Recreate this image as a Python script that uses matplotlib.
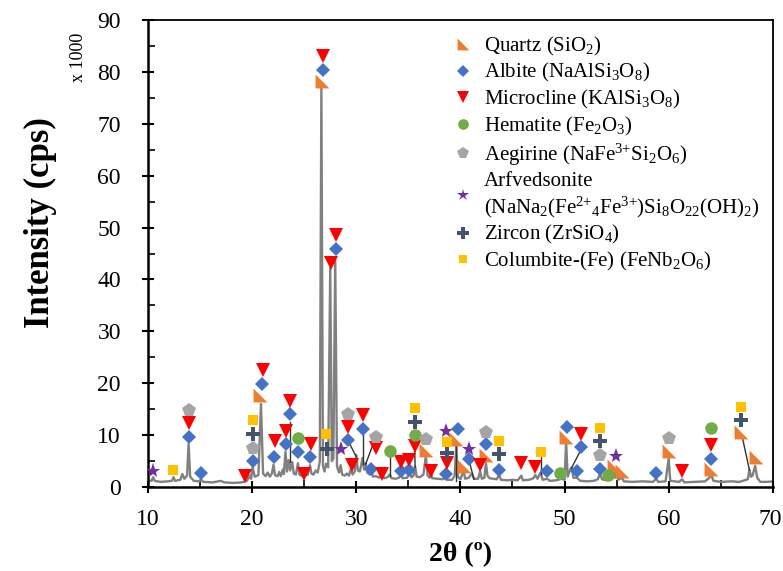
import matplotlib
matplotlib.use("Agg")
import matplotlib.pyplot as plt
import matplotlib.transforms as mtransforms
from matplotlib.lines import Line2D

plt.rcParams["font.family"] = ["Liberation Serif", "DejaVu Serif"]
plt.rcParams["mathtext.fontset"] = "custom"
plt.rcParams["mathtext.rm"] = "Liberation Serif"
plt.rcParams["mathtext.it"] = "Liberation Serif:italic"
plt.rcParams["mathtext.bf"] = "Liberation Serif:bold"

# XRD trace (2theta, intensity x1000)
trace_x = [
    10.0, 10.35, 10.5, 10.65, 11.2, 11.9, 12.3, 12.45, 12.6, 13.1, 13.3, 13.5, 13.75, 13.9, 14.05,
    14.4, 14.9, 15.1, 15.3, 16.2, 17.0, 17.3, 18.2, 19.0, 19.5, 19.8, 19.9, 20.05, 20.25, 20.6,
    20.85, 21.05, 21.3, 21.5, 21.7, 21.9, 22.05, 22.2, 22.45, 22.6, 22.75, 22.95, 23.05, 23.2, 23.35,
    23.5, 23.65, 23.85, 24.0, 24.2, 24.4, 24.55, 24.8, 24.95, 25.1, 25.35, 25.55, 25.7, 25.9, 26.1,
    26.3, 26.5, 26.65, 26.8, 26.95, 27.1, 27.3, 27.5, 27.65, 27.8, 27.98, 28.15, 28.35, 28.5, 28.65,
    28.9, 29.1, 29.3, 29.5, 29.65, 29.85, 30.0, 30.15, 30.35, 30.6, 30.75, 30.9, 31.05, 31.3, 31.45,
    31.6, 31.9, 32.2, 32.5, 32.7, 33.0, 33.2, 33.4, 33.8, 34.1, 34.3, 34.45, 34.9, 35.1, 35.3,
    35.5, 35.65, 35.8, 36.1, 36.45, 36.68, 36.85, 37.05, 37.15, 37.3, 37.8, 38.3, 38.6, 38.75, 39.2,
    39.45, 39.6, 39.75, 40.0, 40.3, 40.45, 40.8, 41.1, 41.3, 41.7, 41.9, 42.05, 42.3, 42.45, 42.6,
    42.8, 43.5, 43.7, 43.9, 44.5, 45.0, 45.5, 45.85, 46.0, 46.6, 47.0, 47.2, 47.4, 47.7, 47.9,
    48.3, 48.6, 49.2, 49.7, 50.0, 50.15, 50.3, 50.55, 50.7, 50.85, 51.2, 51.5, 52.2, 52.8, 53.2,
    53.4, 53.6, 54.0, 54.3, 54.7, 54.85, 55.0, 55.15, 55.5, 55.7, 56.5, 57.5, 58.5, 58.8, 59.0,
    59.7, 60.0, 60.15, 60.6, 61.0, 61.3, 61.5, 62.5, 63.5, 63.9, 64.1, 64.3, 65.0, 66.0, 66.8,
    67.3, 67.6, 67.75, 67.9, 68.05, 68.3, 68.5, 68.8, 69.5, 70.0,
]
trace_y = [
    1.3, 1.2, 1.9, 1.2, 1.0, 1.1, 1.2, 1.9, 1.2, 1.4, 2.5, 1.6, 2.2, 8.3, 2.0,
    1.2, 1.1, 1.5, 1.0, 0.9, 1.2, 0.9, 0.8, 0.9, 1.2, 2.2, 1.6, 3.8, 2.0, 2.3,
    16.0, 2.6, 2.1, 2.8, 2.0, 2.6, 4.3, 2.3, 2.1, 2.9, 2.1, 3.4, 2.5, 6.8, 3.0,
    5.2, 3.2, 4.8, 2.6, 2.4, 4.6, 2.4, 2.1, 3.0, 2.2, 2.4, 4.2, 2.6, 2.4, 3.2,
    2.8, 5.0, 77.0, 4.0, 3.0, 4.5, 3.8, 42.2, 5.0, 5.5, 43.8, 4.0, 2.8, 4.2, 2.4,
    2.2, 2.6, 2.2, 3.6, 2.4, 3.0, 6.2, 3.2, 3.0, 5.6, 3.4, 4.6, 2.8, 2.4, 3.2,
    2.0, 2.1, 1.8, 2.3, 1.7, 1.9, 2.4, 1.7, 1.6, 1.8, 2.5, 1.7, 1.8, 2.9, 1.9,
    2.2, 4.0, 2.0, 1.9, 2.4, 6.0, 2.2, 1.8, 2.8, 1.7, 1.6, 1.5, 2.0, 1.4, 1.4,
    2.2, 8.0, 2.0, 1.5, 3.2, 1.6, 1.8, 2.6, 1.6, 1.6, 3.0, 1.6, 1.8, 4.6, 2.2,
    1.7, 1.5, 2.4, 1.4, 1.3, 1.4, 1.3, 2.2, 1.3, 1.4, 1.7, 2.3, 1.6, 2.8, 1.4,
    1.6, 1.2, 1.3, 1.6, 1.4, 8.8, 2.0, 3.4, 3.8, 1.8, 1.8, 1.2, 1.1, 1.2, 1.5,
    2.6, 1.5, 1.3, 1.4, 3.2, 1.8, 2.6, 1.4, 1.8, 1.1, 1.0, 1.1, 1.0, 1.6, 1.0,
    1.1, 5.5, 1.2, 1.1, 1.0, 1.5, 0.9, 1.0, 1.1, 1.8, 2.3, 1.2, 1.0, 1.1, 1.0,
    1.3, 1.5, 3.4, 2.0, 2.2, 4.1, 1.8, 1.0, 1.0, 1.1,
]

# phase markers (2theta, label height)
quartz_x = [20.8, 26.67, 36.68, 39.6, 40.33, 42.5, 50.18, 54.72, 55.55, 60.03, 64.03, 66.9, 68.4]
quartz_y = [17.7, 78.2, 7.1, 9.3, 4.1, 6.1, 9.6, 4.1, 3.1, 7.0, 3.5, 10.7, 5.7]

albite_x = [13.93, 15.09, 20.05, 20.97, 22.12, 23.21, 23.63, 24.43, 25.55, 26.76, 28.04, 29.2,
            30.66, 31.37, 34.28, 35.08, 38.6, 39.75, 40.8, 42.5, 43.68, 48.3, 50.24, 51.2,
            51.62, 53.4, 58.8, 64.1]
albite_y = [9.6, 2.7, 5.0, 19.8, 5.8, 8.3, 14.1, 6.8, 5.8, 80.4, 45.8, 9.0,
            11.2, 3.5, 3.0, 3.3, 2.6, 11.2, 5.4, 8.3, 3.3, 3.0, 11.5, 3.1,
            7.7, 3.4, 2.8, 5.5]

microcline_x = [13.93, 19.3, 21.0, 22.19, 23.21, 23.63, 24.97, 25.61, 26.76, 27.53, 28.04, 29.22,
                29.55, 30.66, 31.88, 32.5, 34.28, 35.08, 35.62, 37.13, 38.67, 41.9, 45.86, 47.2,
                51.62, 61.3, 64.1]
microcline_y = [12.4, 2.2, 22.5, 8.9, 10.8, 16.6, 2.5, 8.3, 83.0, 43.1, 48.5, 11.6,
                4.2, 13.9, 7.6, 2.6, 4.9, 5.3, 7.9, 3.1, 4.6, 4.2, 4.7, 3.8,
                10.3, 3.0, 8.1]

hematite_x = [24.43, 33.2, 35.62, 49.6, 54.18, 64.1]
hematite_y = [9.4, 7.0, 10.0, 2.7, 2.3, 11.3]

aegirine_x = [13.93, 20.05, 29.22, 31.88, 36.68, 42.5, 53.44, 60.03]
aegirine_y = [14.9, 7.5, 14.0, 9.7, 9.2, 10.7, 6.2, 9.4]

arfvedsonite_x = [10.51, 28.5, 38.62, 40.8, 54.9]
arfvedsonite_y = [3.1, 7.3, 10.8, 7.3, 6.0]

zircon_x = [20.05, 27.15, 35.62, 38.67, 43.68, 53.44, 66.98]
zircon_y = [10.2, 7.4, 12.6, 6.5, 6.3, 8.9, 12.9]

columbite_x = [12.43, 20.05, 27.08, 35.62, 38.67, 43.68, 47.7, 53.44, 66.98]
columbite_y = [3.2, 12.9, 10.2, 15.3, 8.7, 8.8, 6.7, 11.4, 15.5]

# leader lines from label stacks down to peaks
leader_x0 = [23.63, 29.4, 30.66, 31.75, 33.2, 35.62, 39.6, 40.9, 47.7, 51.5, 67.05]
leader_y0 = [12.6, 8.2, 10.0, 9.0, 6.0, 7.0, 8.5, 4.6, 5.8, 6.9, 9.8]
leader_x1 = [23.63, 30.0, 30.66, 30.9, 33.2, 35.65, 39.6, 41.3, 47.7, 50.65, 67.75]
leader_y1 = [4.9, 5.8, 4.5, 4.4, 2.2, 3.8, 1.2, 1.5, 2.6, 3.6, 3.3]

quartz_marker = [(-1, 1), (-1, -1), (1, -1), (-1, 1)]

phases = [
    ("Quartz (SiO$_2$)", quartz_x, quartz_y, quartz_marker, "#ED7D31", 10),
    ("Albite (NaAlSi$_3$O$_8$)", albite_x, albite_y, "D", "#4472C4", 7.5),
    ("Microcline (KAlSi$_3$O$_8$)", microcline_x, microcline_y, "v", "#FF0000", 9.5),
    ("Hematite (Fe$_2$O$_3$)", hematite_x, hematite_y, "o", "#70AD47", 9),
    ("Aegirine (NaFe$^{3{+}}$Si$_2$O$_6$)", aegirine_x, aegirine_y, "p", "#A5A5A5", 10),
    ("Arfvedsonite\n(NaNa$_2$(Fe$^{2{+}}$$_4$Fe$^{3{+}}$)Si$_8$O$_{22}$(OH)$_2$)",
     arfvedsonite_x, arfvedsonite_y, "*", "#7030A0", 11),
    ("Zircon (ZrSiO$_4$)", zircon_x, zircon_y, "P", "#44546A", 10),
    ("Columbite-(Fe) (FeNb$_2$O$_6$)", columbite_x, columbite_y, "s", "#FFC000", 7.5),
]

fig = plt.figure(figsize=(7.83, 5.71), dpi=100)
ax = fig.add_axes([0.189, 0.147, 0.798, 0.818])

ax.plot(trace_x, trace_y, color="#808080", linewidth=1.7, zorder=2)

for x0, y0, x1, y1 in zip(leader_x0, leader_y0, leader_x1, leader_y1):
    ax.plot([x0, x1], [y0, y1], color="#333333", linewidth=1.0, zorder=2)

handles = []
for label, xs, ys, mk, col, ms in phases:
    ax.plot(xs, ys, linestyle="none", marker=mk, color=col, markersize=ms,
            markeredgewidth=0, zorder=3)
    handles.append(Line2D([], [], linestyle="none", marker=mk, color=col,
                          markersize=ms * 0.85, markeredgewidth=0, label=label))

ax.set_xlim(10, 70)
ax.set_ylim(0, 90)
ax.set_xticks(range(10, 71, 10))
ax.set_yticks(range(0, 91, 10))
ax.set_xticks(range(15, 70, 10), minor=True)
ax.set_yticks(range(5, 90, 10), minor=True)
ax.tick_params(which="major", direction="inout", length=9, width=1.5, labelsize=17)
ax.tick_params(axis="y", which="major", pad=15)
ax.tick_params(axis="x", which="major", pad=11)
ax.tick_params(which="minor", direction="in", length=5, width=1.2)
ax.tick_params(axis="y", which="both", right=False)
ax.tick_params(axis="x", which="both", top=False)
for side in ["left", "bottom"]:
    ax.spines[side].set_linewidth(1.8)
for side in ["top", "right"]:
    ax.spines[side].set_linewidth(1.3)

# keep the last x tick label inside the figure edge
last = ax.get_xticklabels()[-1]
last.set_horizontalalignment("right")
last.set_transform(last.get_transform() +
                   mtransforms.ScaledTranslation(0.09, 0, fig.dpi_scale_trans))

ax.set_xlabel("2θ (º)", fontsize=20, fontweight="bold")
ax.xaxis.set_label_coords(0.5, -0.118)
ax.set_ylabel("Intensity (cps)", fontsize=25, fontweight="bold")
ax.yaxis.set_label_coords(-0.145, 0.567)
fig.text(0.1, 0.9, "x 1000", rotation=90, fontsize=13, ha="center", va="center")

ax.legend(handles=handles, loc="upper left", bbox_to_anchor=(0.467, 1.0),
          frameon=False, fontsize=15, handlelength=0.8, handletextpad=0.6,
          labelspacing=0.18, borderaxespad=0.3)

fig.savefig("out.png", dpi=100)
